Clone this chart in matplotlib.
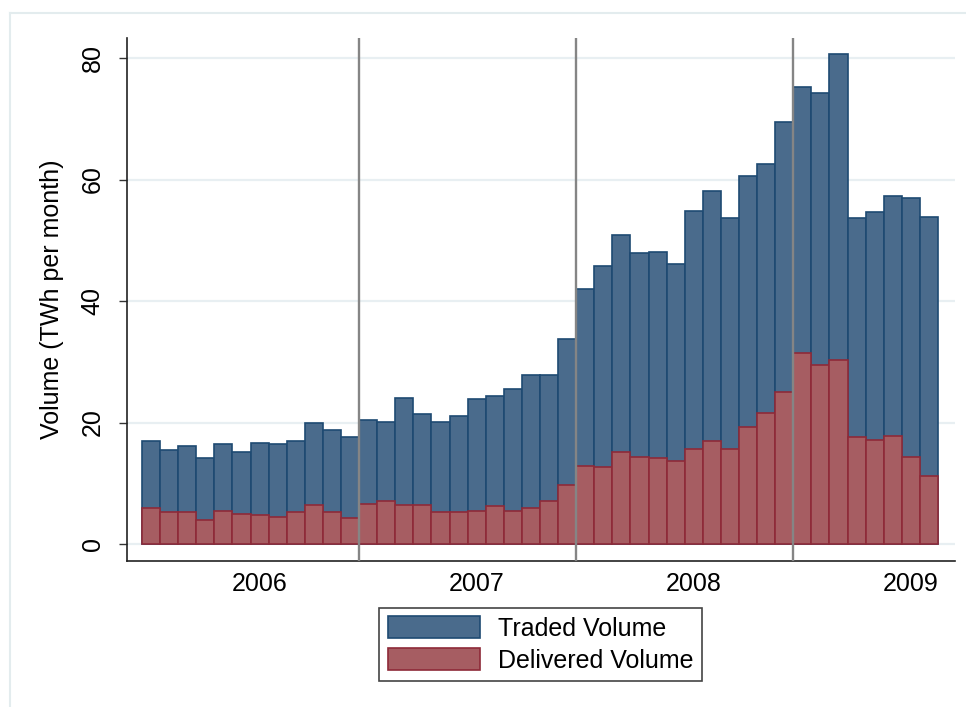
import matplotlib
matplotlib.use("Agg")
import matplotlib.pyplot as plt
from matplotlib.lines import Line2D
import numpy as np

plt.rcParams['font.family'] = ['Liberation Sans', 'DejaVu Sans']

# ---- data (TWh per month), Jan 2006 .. Aug 2009 ----
months = [f"{y}-{m:02d}" for y in (2006, 2007, 2008) for m in range(1, 13)] + \
         [f"2009-{m:02d}" for m in range(1, 9)]
traded = [17.0, 15.5, 16.1, 14.2, 16.5, 15.2, 16.7, 16.5, 17.0, 19.9, 18.8, 17.6,
          20.4, 20.1, 24.0, 21.4, 20.1, 21.0, 23.8, 24.4, 25.5, 27.9, 27.9, 33.8,
          41.9, 45.8, 50.8, 47.9, 48.1, 46.1, 54.9, 58.1, 53.6, 60.5, 62.6, 69.4,
          75.3, 74.3, 80.7, 53.6, 54.7, 57.3, 57.0, 53.8]
delivered = [5.9, 5.2, 5.2, 4.0, 5.4, 5.0, 4.8, 4.4, 5.2, 6.5, 5.2, 4.2,
             6.6, 7.1, 6.5, 6.5, 5.2, 5.2, 5.4, 6.3, 5.4, 6.0, 7.1, 9.7,
             12.9, 12.7, 15.2, 14.4, 14.2, 13.6, 15.7, 16.9, 15.7, 19.3, 21.6, 25.1,
             31.4, 29.5, 30.3, 17.6, 17.2, 17.8, 14.4, 11.2]
year_labels = ["2006", "2007", "2008", "2009"]
year_label_month = ["2006-07", "2007-07", "2008-07", "2009-07"]
year_breaks = ["2007-01", "2008-01", "2009-01"]
y_ticks = [0, 20, 40, 60, 80]

x = np.arange(len(months))
pos = {m: i for i, m in enumerate(months)}

BLUE, BLUE_E = "#4a6b8c", "#1e4a72"
RED, RED_E = "#a65d62", "#8e2a38"
FS = 18

fig = plt.figure(figsize=(9.66, 7.07), dpi=100)
ax = fig.add_axes([127/966, 1-561/707, (955-127)/966, (561-38)/707])

for yt in y_ticks:
    ax.axhline(yt, color="#e8eff2", lw=1.6, zorder=0)

ax.bar(x, traded, width=1.0, color=BLUE, edgecolor=BLUE_E, linewidth=1.2,
       label="Traded Volume", zorder=2)
ax.bar(x, delivered, width=1.0, color=RED, edgecolor=RED_E, linewidth=1.2,
       label="Delivered Volume", zorder=3)

for b in year_breaks:
    ax.axvline(pos[b] - 0.5, color="#858585", lw=1.7, zorder=4)

ax.set_xlim(-1.33, 44.44)
ax.set_ylim(-2.8, 83.3)

ax.set_yticks(y_ticks)
ax.set_yticklabels([str(v) for v in y_ticks], rotation=90, va="center",
                   fontsize=FS)
ax.tick_params(axis="y", length=6, width=1, color="#333333", pad=10)

lab_x = [pos[m] if m in pos else pos["2009-01"] + 6 for m in year_label_month]
ax.set_xticks(lab_x)
ax.set_xticklabels(year_labels, fontsize=FS)
ax.tick_params(axis="x", length=0, pad=8)

ax.set_ylabel("Volume (TWh per month)", fontsize=FS, labelpad=12)

for s in ("top", "right"):
    ax.spines[s].set_visible(False)
for s in ("left", "bottom"):
    ax.spines[s].set_color("#222222")
    ax.spines[s].set_linewidth(1.2)

leg = fig.legend(loc="center", bbox_to_anchor=(540.5/966, 1-644.5/707),
                 fontsize=FS, frameon=True, fancybox=False,
                 edgecolor="#444444", framealpha=1, handlelength=3.7,
                 handleheight=0.95, labelspacing=0.3, borderpad=0.35,
                 handletextpad=0.7)
leg.get_frame().set_linewidth(1.2)

# outer graph-region border (top and left visible)
fig.add_artist(Line2D([10/966, 1.0], [1-13/707, 1-13/707], color="#e3ecee", lw=1.5))
fig.add_artist(Line2D([10/966, 10/966], [0.0, 1-13/707], color="#e3ecee", lw=1.5))

fig.savefig("out.png", dpi=100)
